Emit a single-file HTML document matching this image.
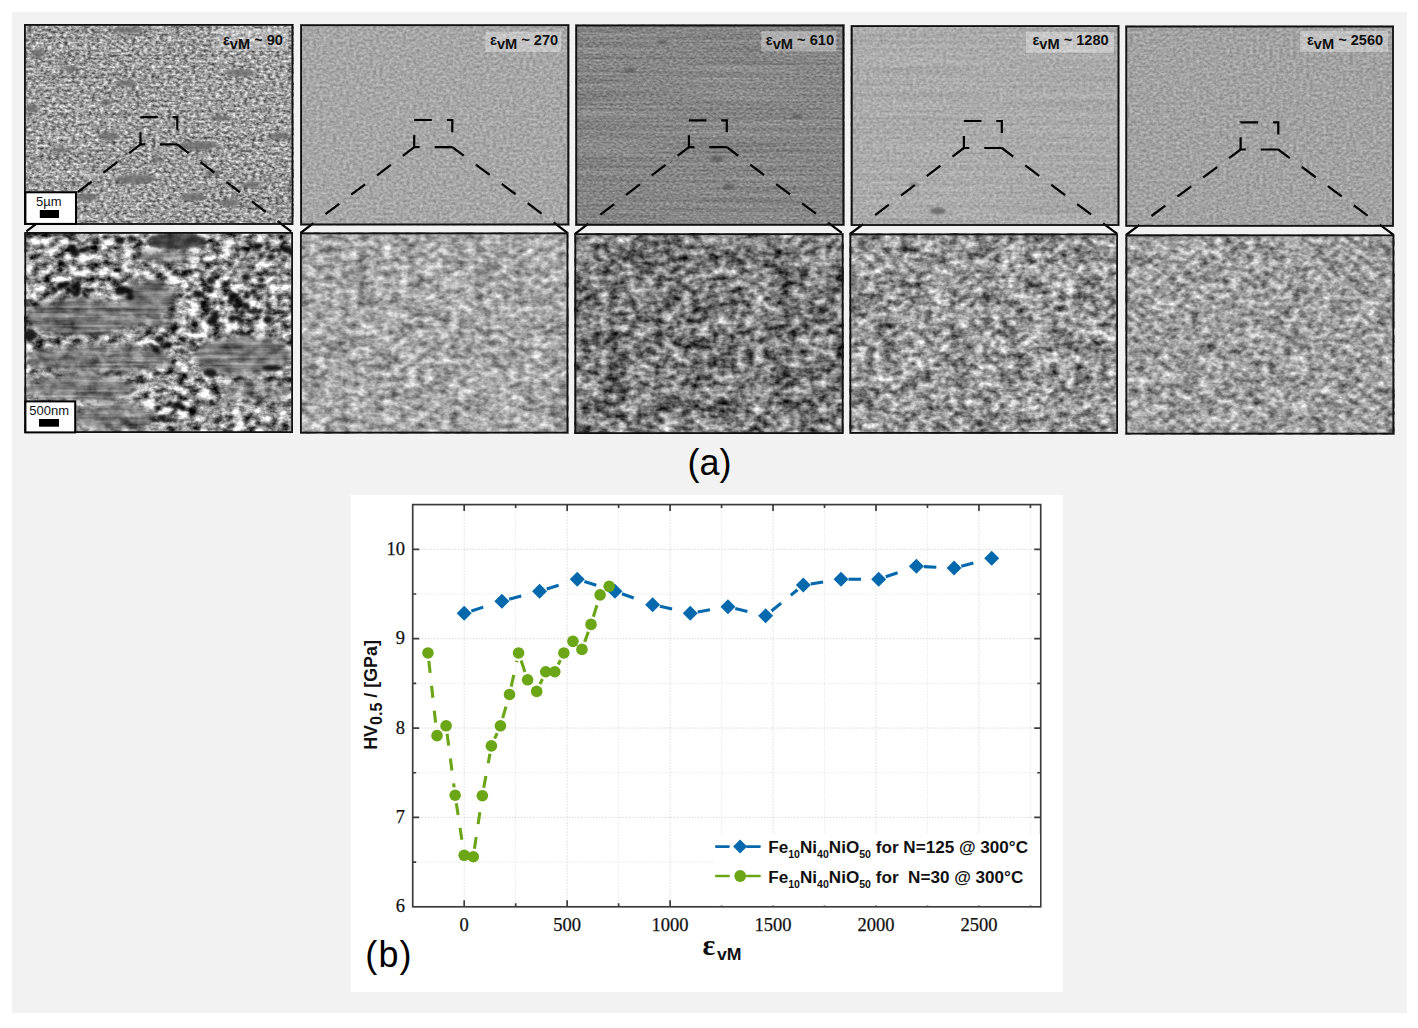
<!DOCTYPE html><html><head><meta charset="utf-8"><style>html,body{margin:0;padding:0;background:#fff;width:1418px;height:1028px;overflow:hidden}svg{display:block}</style></head><body><svg width="1418" height="1028" viewBox="0 0 1418 1028">
<defs><filter id="ft0" x="0" y="0" width="100%" height="100%" color-interpolation-filters="sRGB"><feTurbulence type="fractalNoise" baseFrequency="0.25 0.38" numOctaves="3" seed="3"/><feColorMatrix type="matrix" values="1.115 0 0 0 0.054  1.115 0 0 0 0.054  1.115 0 0 0 0.054  0 0 0 0 1"/></filter><filter id="ft1" x="0" y="0" width="100%" height="100%" color-interpolation-filters="sRGB"><feTurbulence type="fractalNoise" baseFrequency="0.3 0.38" numOctaves="2" seed="5"/><feColorMatrix type="matrix" values="0.328 0 0 0 0.487  0.328 0 0 0 0.487  0.328 0 0 0 0.487  0 0 0 0 1"/></filter><filter id="ft2" x="0" y="0" width="100%" height="100%" color-interpolation-filters="sRGB"><feTurbulence type="fractalNoise" baseFrequency="0.3 0.5" numOctaves="2" seed="7"/><feColorMatrix type="matrix" values="0.393 0 0 0 0.329  0.393 0 0 0 0.329  0.393 0 0 0 0.329  0 0 0 0 1"/></filter><filter id="ft3" x="0" y="0" width="100%" height="100%" color-interpolation-filters="sRGB"><feTurbulence type="fractalNoise" baseFrequency="0.3 0.38" numOctaves="2" seed="9"/><feColorMatrix type="matrix" values="0.295 0 0 0 0.519  0.295 0 0 0 0.519  0.295 0 0 0 0.519  0 0 0 0 1"/></filter><filter id="ft4" x="0" y="0" width="100%" height="100%" color-interpolation-filters="sRGB"><feTurbulence type="fractalNoise" baseFrequency="0.3 0.38" numOctaves="2" seed="11"/><feColorMatrix type="matrix" values="0.328 0 0 0 0.471  0.328 0 0 0 0.471  0.328 0 0 0 0.471  0 0 0 0 1"/></filter><filter id="fb0" x="0" y="0" width="100%" height="100%" color-interpolation-filters="sRGB"><feTurbulence type="fractalNoise" baseFrequency="0.09 0.13" numOctaves="4" seed="13"/><feColorMatrix type="matrix" values="1.902 0 0 0 -0.363  1.902 0 0 0 -0.363  1.902 0 0 0 -0.363  0 0 0 0 1"/></filter><filter id="fb1" x="0" y="0" width="100%" height="100%" color-interpolation-filters="sRGB"><feTurbulence type="fractalNoise" baseFrequency="0.12 0.17" numOctaves="3" seed="15" result="n1"/><feColorMatrix in="n1" type="matrix" values="1 0 0 0 0  1 0 0 0 0  1 0 0 0 0  0 0 0 0 1" result="g1"/><feTurbulence type="fractalNoise" baseFrequency="0.04 0.065" numOctaves="3" seed="65" result="n2"/><feColorMatrix in="n2" type="matrix" values="1 0 0 0 0  1 0 0 0 0  1 0 0 0 0  0 0 0 0 1" result="g2"/><feComposite in="g1" in2="g2" operator="arithmetic" k1="0" k2="0.68" k3="0.32" k4="0" result="m"/><feColorMatrix in="m" type="matrix" values="1.134 0 0 0 0.080  1.134 0 0 0 0.080  1.134 0 0 0 0.080  0 0 0 0 1"/></filter><filter id="fb2" x="0" y="0" width="100%" height="100%" color-interpolation-filters="sRGB"><feTurbulence type="fractalNoise" baseFrequency="0.11 0.16" numOctaves="3" seed="17" result="n1"/><feColorMatrix in="n1" type="matrix" values="1 0 0 0 0  1 0 0 0 0  1 0 0 0 0  0 0 0 0 1" result="g1"/><feTurbulence type="fractalNoise" baseFrequency="0.035 0.06" numOctaves="3" seed="67" result="n2"/><feColorMatrix in="n2" type="matrix" values="1 0 0 0 0  1 0 0 0 0  1 0 0 0 0  0 0 0 0 1" result="g2"/><feComposite in="g1" in2="g2" operator="arithmetic" k1="0" k2="0.65" k3="0.35" k4="0" result="m"/><feColorMatrix in="m" type="matrix" values="1.688 0 0 0 -0.365  1.688 0 0 0 -0.365  1.688 0 0 0 -0.365  0 0 0 0 1"/></filter><filter id="fb3" x="0" y="0" width="100%" height="100%" color-interpolation-filters="sRGB"><feTurbulence type="fractalNoise" baseFrequency="0.12 0.17" numOctaves="3" seed="19" result="n1"/><feColorMatrix in="n1" type="matrix" values="1 0 0 0 0  1 0 0 0 0  1 0 0 0 0  0 0 0 0 1" result="g1"/><feTurbulence type="fractalNoise" baseFrequency="0.04 0.065" numOctaves="3" seed="69" result="n2"/><feColorMatrix in="n2" type="matrix" values="1 0 0 0 0  1 0 0 0 0  1 0 0 0 0  0 0 0 0 1" result="g2"/><feComposite in="g1" in2="g2" operator="arithmetic" k1="0" k2="0.68" k3="0.32" k4="0" result="m"/><feColorMatrix in="m" type="matrix" values="1.571 0 0 0 -0.197  1.571 0 0 0 -0.197  1.571 0 0 0 -0.197  0 0 0 0 1"/></filter><filter id="fb4" x="0" y="0" width="100%" height="100%" color-interpolation-filters="sRGB"><feTurbulence type="fractalNoise" baseFrequency="0.13 0.18" numOctaves="3" seed="21" result="n1"/><feColorMatrix in="n1" type="matrix" values="1 0 0 0 0  1 0 0 0 0  1 0 0 0 0  0 0 0 0 1" result="g1"/><feTurbulence type="fractalNoise" baseFrequency="0.045 0.07" numOctaves="3" seed="71" result="n2"/><feColorMatrix in="n2" type="matrix" values="1 0 0 0 0  1 0 0 0 0  1 0 0 0 0  0 0 0 0 1" result="g2"/><feComposite in="g1" in2="g2" operator="arithmetic" k1="0" k2="0.7" k3="0.3" k4="0" result="m"/><feColorMatrix in="m" type="matrix" values="1.248 0 0 0 -0.005  1.248 0 0 0 -0.005  1.248 0 0 0 -0.005  0 0 0 0 1"/></filter><filter id="fstri" x="0" y="0" width="100%" height="100%" color-interpolation-filters="sRGB"><feTurbulence type="fractalNoise" baseFrequency="0.01 0.25" numOctaves="3" seed="4" result="n1"/><feColorMatrix in="n1" type="matrix" values="1 0 0 0 0  1 0 0 0 0  1 0 0 0 0  0 0 0 0 1" result="g1"/><feTurbulence type="fractalNoise" baseFrequency="0.06 0.1" numOctaves="3" seed="44" result="n2"/><feColorMatrix in="n2" type="matrix" values="1 0 0 0 0  1 0 0 0 0  1 0 0 0 0  0 0 0 0 1" result="g2"/><feComposite in="g1" in2="g2" operator="arithmetic" k1="0" k2="0.55" k3="0.45" k4="0" result="m"/><feColorMatrix in="m" type="matrix" values="1.15 0 0 0 -0.12  1.15 0 0 0 -0.12  1.15 0 0 0 -0.12  0 0 0 0 1"/></filter><filter id="fs0" x="0" y="0" width="100%" height="100%" color-interpolation-filters="sRGB"><feTurbulence type="fractalNoise" baseFrequency="0.006 0.35" numOctaves="2" seed="8"/><feColorMatrix type="matrix" values="2.0 0 0 0 -0.392  2.0 0 0 0 -0.392  2.0 0 0 0 -0.392  0 0 0 0 0.12"/></filter><filter id="fs2" x="0" y="0" width="100%" height="100%" color-interpolation-filters="sRGB"><feTurbulence type="fractalNoise" baseFrequency="0.006 0.35" numOctaves="2" seed="8"/><feColorMatrix type="matrix" values="2.0 0 0 0 -0.475  2.0 0 0 0 -0.475  2.0 0 0 0 -0.475  0 0 0 0 0.1"/></filter><filter id="fs3" x="0" y="0" width="100%" height="100%" color-interpolation-filters="sRGB"><feTurbulence type="fractalNoise" baseFrequency="0.006 0.35" numOctaves="2" seed="8"/><feColorMatrix type="matrix" values="1.6 0 0 0 -0.133  1.6 0 0 0 -0.133  1.6 0 0 0 -0.133  0 0 0 0 0.08"/></filter><filter id="bl2" x="-20%" y="-20%" width="140%" height="140%"><feGaussianBlur stdDeviation="2"/></filter><filter id="bl1" x="-20%" y="-20%" width="140%" height="140%"><feGaussianBlur stdDeviation="1"/></filter><filter id="bl3" x="-20%" y="-20%" width="140%" height="140%"><feGaussianBlur stdDeviation="3"/></filter><clipPath id="c0"><rect x="24.0" y="24.0" width="269.3" height="200.9"/></clipPath><clipPath id="c1"><rect x="300.2" y="24.3" width="268.9" height="201.0"/></clipPath><clipPath id="c2"><rect x="575.4" y="24.7" width="268.8" height="200.9"/></clipPath><clipPath id="c3"><rect x="850.9" y="25.2" width="268.4" height="200.7"/></clipPath><clipPath id="c4"><rect x="1125.4" y="25.7" width="268.5" height="201.0"/></clipPath><clipPath id="c5"><rect x="24.4" y="232.0" width="268.6" height="201.0"/></clipPath><clipPath id="c6"><rect x="300.0" y="232.5" width="268.3" height="201.0"/></clipPath><clipPath id="c7"><rect x="574.5" y="233.3" width="269.0" height="200.7"/></clipPath><clipPath id="c8"><rect x="849.5" y="233.5" width="268.5" height="200.3"/></clipPath><clipPath id="c9"><rect x="1125.5" y="234.5" width="268.7" height="200.0"/></clipPath></defs>
<rect x="0" y="0" width="1418" height="1028" fill="#ffffff"/>
<rect x="12" y="12" width="1395" height="1001" fill="#f2f2f2"/>
<rect x="24.0" y="24.0" width="269.3" height="200.9" filter="url(#ft0)"/>
<rect x="300.2" y="24.3" width="268.9" height="201.0" filter="url(#ft1)"/>
<rect x="575.4" y="24.7" width="268.8" height="200.9" filter="url(#ft2)"/>
<rect x="850.9" y="25.2" width="268.4" height="200.7" filter="url(#ft3)"/>
<rect x="1125.4" y="25.7" width="268.5" height="201.0" filter="url(#ft4)"/>
<rect x="24.4" y="232.0" width="268.6" height="201.0" filter="url(#fb0)"/>
<rect x="300.0" y="232.5" width="268.3" height="201.0" filter="url(#fb1)"/>
<rect x="574.5" y="233.3" width="269.0" height="200.7" filter="url(#fb2)"/>
<rect x="849.5" y="233.5" width="268.5" height="200.3" filter="url(#fb3)"/>
<rect x="1125.5" y="234.5" width="268.7" height="200.0" filter="url(#fb4)"/>
<rect x="24.0" y="24.0" width="269.3" height="200.9" filter="url(#fs0)"/>
<rect x="575.4" y="24.7" width="268.8" height="200.9" filter="url(#fs2)"/>
<rect x="850.9" y="25.2" width="268.4" height="200.7" filter="url(#fs3)"/>
<g clip-path="url(#c2)" filter="url(#bl1)"><ellipse cx="630.3" cy="70.2" rx="6" ry="2.5" fill="#555" fill-opacity="0.7"/></g>
<g clip-path="url(#c2)" filter="url(#bl1)"><ellipse cx="716.8" cy="158.7" rx="6" ry="3.5" fill="#555" fill-opacity="0.7"/></g>
<g clip-path="url(#c2)" filter="url(#bl1)"><ellipse cx="728.8" cy="186.8" rx="6" ry="3" fill="#555" fill-opacity="0.7"/></g>
<g clip-path="url(#c2)" filter="url(#bl1)"><ellipse cx="662.5" cy="42.1" rx="5" ry="2" fill="#555" fill-opacity="0.7"/></g>
<g clip-path="url(#c2)" filter="url(#bl1)"><ellipse cx="797" cy="116.5" rx="5" ry="2" fill="#555" fill-opacity="0.7"/></g>
<g clip-path="url(#c3)" filter="url(#bl1)"><ellipse cx="937.8" cy="210.9" rx="8" ry="3.5" fill="#555" fill-opacity="0.7"/></g>
<g clip-path="url(#c3)" filter="url(#bl1)"><ellipse cx="913.7" cy="184.8" rx="4" ry="1.5" fill="#555" fill-opacity="0.7"/></g>
<g clip-path="url(#c0)" filter="url(#bl1)"><ellipse cx="37.8" cy="53.5" rx="7" ry="4" fill="#6c6c6c" fill-opacity="0.8"/><ellipse cx="106.5" cy="102.6" rx="6" ry="3" fill="#6c6c6c" fill-opacity="0.8"/><ellipse cx="108.5" cy="136" rx="11" ry="4.5" fill="#6c6c6c" fill-opacity="0.8"/><ellipse cx="197" cy="145.8" rx="20" ry="4.5" fill="#6c6c6c" fill-opacity="0.8"/><ellipse cx="136" cy="179" rx="20" ry="4.5" fill="#6c6c6c" fill-opacity="0.8"/><ellipse cx="240" cy="73" rx="15" ry="3.5" fill="#6c6c6c" fill-opacity="0.8"/><ellipse cx="126" cy="83" rx="10" ry="3.5" fill="#6c6c6c" fill-opacity="0.8"/><ellipse cx="279.5" cy="136" rx="10" ry="3.5" fill="#6c6c6c" fill-opacity="0.8"/><ellipse cx="87" cy="197" rx="10" ry="4" fill="#6c6c6c" fill-opacity="0.8"/><ellipse cx="193" cy="197" rx="12" ry="4" fill="#6c6c6c" fill-opacity="0.8"/><ellipse cx="228" cy="203" rx="10" ry="3.5" fill="#6c6c6c" fill-opacity="0.8"/><ellipse cx="157.6" cy="159.6" rx="6" ry="3" fill="#6c6c6c" fill-opacity="0.8"/><ellipse cx="32" cy="108.5" rx="7" ry="4" fill="#6c6c6c" fill-opacity="0.8"/><ellipse cx="128" cy="30" rx="15" ry="3.5" fill="#6c6c6c" fill-opacity="0.8"/><ellipse cx="220.5" cy="118" rx="10" ry="3" fill="#6c6c6c" fill-opacity="0.8"/><ellipse cx="71" cy="69" rx="8" ry="3" fill="#6c6c6c" fill-opacity="0.8"/><ellipse cx="212.6" cy="173" rx="8" ry="3" fill="#6c6c6c" fill-opacity="0.8"/><ellipse cx="60" cy="150" rx="9" ry="3" fill="#6c6c6c" fill-opacity="0.8"/><ellipse cx="250" cy="185" rx="9" ry="3" fill="#6c6c6c" fill-opacity="0.8"/></g>
<mask id="mb1" maskUnits="userSpaceOnUse" x="0" y="0" width="1418" height="1028"><g filter="url(#bl3)"><ellipse cx="81" cy="317" rx="55" ry="19" fill="#fff" fill-opacity="0.85"/><ellipse cx="150" cy="320" rx="28" ry="8" fill="#fff" fill-opacity="0.6"/><ellipse cx="148" cy="297" rx="27" ry="17" fill="#fff" fill-opacity="0.85"/><ellipse cx="165" cy="256" rx="29" ry="7" fill="#fff" fill-opacity="0.7"/><ellipse cx="243" cy="356" rx="49" ry="19" fill="#fff" fill-opacity="0.85"/><ellipse cx="98" cy="359" rx="72" ry="15" fill="#fff" fill-opacity="0.7"/><ellipse cx="81" cy="388" rx="55" ry="13" fill="#fff" fill-opacity="0.8"/><ellipse cx="115" cy="417" rx="40" ry="15" fill="#fff" fill-opacity="0.75"/><ellipse cx="255" cy="390" rx="36" ry="12" fill="#fff" fill-opacity="0.45"/><ellipse cx="40" cy="420" rx="20" ry="10" fill="#fff" fill-opacity="0.5"/></g></mask>
<g clip-path="url(#c5)"><rect x="24.4" y="232.0" width="268.6" height="201.0" filter="url(#fstri)" mask="url(#mb1)"/><g filter="url(#bl1)"><ellipse cx="176" cy="241" rx="30" ry="8" fill="#303030" fill-opacity="0.8"/><ellipse cx="69.2" cy="290.5" rx="3.7" ry="3.1" fill="#0a0a0a" fill-opacity="0.92"/><ellipse cx="87.2" cy="290.3" rx="3.0" ry="2.5" fill="#0a0a0a" fill-opacity="0.92"/><ellipse cx="87.4" cy="289.8" rx="2.2" ry="1.9" fill="#0a0a0a" fill-opacity="0.92"/><ellipse cx="67.8" cy="288.8" rx="2.4" ry="2.0" fill="#0a0a0a" fill-opacity="0.92"/><ellipse cx="55.5" cy="291.0" rx="2.5" ry="2.0" fill="#0a0a0a" fill-opacity="0.92"/><ellipse cx="75.9" cy="293.6" rx="4.4" ry="3.7" fill="#0a0a0a" fill-opacity="0.92"/><ellipse cx="61.0" cy="285.9" rx="4.5" ry="3.8" fill="#0a0a0a" fill-opacity="0.92"/><ellipse cx="92.2" cy="289.9" rx="2.9" ry="2.4" fill="#0a0a0a" fill-opacity="0.92"/><ellipse cx="77.6" cy="289.9" rx="2.9" ry="2.4" fill="#0a0a0a" fill-opacity="0.92"/><ellipse cx="76.7" cy="285.2" rx="3.6" ry="3.0" fill="#0a0a0a" fill-opacity="0.92"/><ellipse cx="64.5" cy="284.6" rx="3.5" ry="2.9" fill="#0a0a0a" fill-opacity="0.92"/><ellipse cx="77.9" cy="288.7" rx="2.7" ry="2.2" fill="#0a0a0a" fill-opacity="0.92"/><ellipse cx="67.0" cy="283.7" rx="2.9" ry="2.4" fill="#0a0a0a" fill-opacity="0.92"/><ellipse cx="60.5" cy="285.5" rx="2.9" ry="2.4" fill="#0a0a0a" fill-opacity="0.92"/><ellipse cx="78.0" cy="282.2" rx="2.7" ry="2.3" fill="#0a0a0a" fill-opacity="0.92"/><ellipse cx="120.2" cy="291.6" rx="4.3" ry="3.6" fill="#0a0a0a" fill-opacity="0.9"/><ellipse cx="125.4" cy="290.2" rx="4.5" ry="3.8" fill="#0a0a0a" fill-opacity="0.9"/><ellipse cx="130.3" cy="297.1" rx="4.0" ry="3.3" fill="#0a0a0a" fill-opacity="0.9"/><ellipse cx="129.6" cy="298.1" rx="2.3" ry="1.9" fill="#0a0a0a" fill-opacity="0.9"/><ellipse cx="122.1" cy="288.5" rx="3.5" ry="2.9" fill="#0a0a0a" fill-opacity="0.9"/><ellipse cx="129.6" cy="291.2" rx="3.8" ry="3.2" fill="#0a0a0a" fill-opacity="0.9"/><ellipse cx="209.6" cy="290.5" rx="3.3" ry="2.7" fill="#0a0a0a" fill-opacity="0.9"/><ellipse cx="261.4" cy="279.8" rx="3.3" ry="2.7" fill="#0a0a0a" fill-opacity="0.9"/><ellipse cx="232.3" cy="296.3" rx="3.8" ry="3.2" fill="#0a0a0a" fill-opacity="0.9"/><ellipse cx="211.0" cy="280.5" rx="4.1" ry="3.4" fill="#0a0a0a" fill-opacity="0.9"/><ellipse cx="232.0" cy="318.4" rx="3.8" ry="3.1" fill="#0a0a0a" fill-opacity="0.9"/><ellipse cx="268.3" cy="304.6" rx="2.6" ry="2.1" fill="#0a0a0a" fill-opacity="0.9"/><ellipse cx="246.1" cy="306.4" rx="4.0" ry="3.3" fill="#0a0a0a" fill-opacity="0.9"/><ellipse cx="253.4" cy="311.8" rx="3.1" ry="2.6" fill="#0a0a0a" fill-opacity="0.9"/><ellipse cx="246.8" cy="296.5" rx="3.2" ry="2.7" fill="#0a0a0a" fill-opacity="0.9"/><ellipse cx="197.7" cy="294.2" rx="4.1" ry="3.4" fill="#0a0a0a" fill-opacity="0.9"/><ellipse cx="253.6" cy="291.3" rx="3.2" ry="2.6" fill="#0a0a0a" fill-opacity="0.9"/><ellipse cx="211.3" cy="321.7" rx="4.5" ry="3.7" fill="#0a0a0a" fill-opacity="0.9"/><ellipse cx="249.0" cy="311.2" rx="2.7" ry="2.3" fill="#0a0a0a" fill-opacity="0.9"/><ellipse cx="241.3" cy="320.7" rx="3.6" ry="3.0" fill="#0a0a0a" fill-opacity="0.9"/><ellipse cx="237.8" cy="303.7" rx="3.2" ry="2.6" fill="#0a0a0a" fill-opacity="0.9"/><ellipse cx="214.9" cy="316.9" rx="4.4" ry="3.7" fill="#0a0a0a" fill-opacity="0.9"/><ellipse cx="226.2" cy="284.0" rx="3.6" ry="3.0" fill="#0a0a0a" fill-opacity="0.9"/><ellipse cx="233.3" cy="296.4" rx="4.3" ry="3.6" fill="#0a0a0a" fill-opacity="0.9"/><ellipse cx="245.9" cy="277.2" rx="4.1" ry="3.4" fill="#0a0a0a" fill-opacity="0.9"/><ellipse cx="215.8" cy="312.7" rx="2.4" ry="2.0" fill="#0a0a0a" fill-opacity="0.9"/><ellipse cx="230.5" cy="297.0" rx="2.3" ry="1.9" fill="#0a0a0a" fill-opacity="0.9"/><ellipse cx="242.6" cy="312.5" rx="3.0" ry="2.5" fill="#0a0a0a" fill-opacity="0.9"/><ellipse cx="238.7" cy="302.1" rx="2.5" ry="2.1" fill="#0a0a0a" fill-opacity="0.9"/><ellipse cx="259.8" cy="311.7" rx="2.2" ry="1.9" fill="#0a0a0a" fill-opacity="0.9"/><ellipse cx="262.8" cy="287.0" rx="2.5" ry="2.1" fill="#0a0a0a" fill-opacity="0.9"/><ellipse cx="237.6" cy="317.9" rx="3.0" ry="2.5" fill="#0a0a0a" fill-opacity="0.9"/><ellipse cx="267.7" cy="319.4" rx="4.5" ry="3.8" fill="#0a0a0a" fill-opacity="0.9"/><ellipse cx="207.4" cy="306.0" rx="2.4" ry="2.0" fill="#0a0a0a" fill-opacity="0.9"/><ellipse cx="259.1" cy="311.5" rx="2.8" ry="2.3" fill="#0a0a0a" fill-opacity="0.9"/><ellipse cx="246.6" cy="292.5" rx="2.2" ry="1.8" fill="#0a0a0a" fill-opacity="0.9"/><ellipse cx="269.2" cy="296.1" rx="2.5" ry="2.1" fill="#0a0a0a" fill-opacity="0.9"/><ellipse cx="230.9" cy="300.8" rx="3.4" ry="2.9" fill="#0a0a0a" fill-opacity="0.9"/><ellipse cx="167.9" cy="344.9" rx="3.8" ry="3.2" fill="#0a0a0a" fill-opacity="0.9"/><ellipse cx="157.5" cy="351.4" rx="2.6" ry="2.1" fill="#0a0a0a" fill-opacity="0.9"/><ellipse cx="159.1" cy="339.5" rx="4.0" ry="3.4" fill="#0a0a0a" fill-opacity="0.9"/><ellipse cx="155.6" cy="349.7" rx="4.1" ry="3.4" fill="#0a0a0a" fill-opacity="0.9"/><ellipse cx="167.9" cy="345.2" rx="4.1" ry="3.4" fill="#0a0a0a" fill-opacity="0.9"/><ellipse cx="161.9" cy="339.0" rx="2.7" ry="2.3" fill="#0a0a0a" fill-opacity="0.9"/><ellipse cx="151.6" cy="345.4" rx="2.2" ry="1.9" fill="#0a0a0a" fill-opacity="0.9"/><ellipse cx="163.6" cy="346.8" rx="2.8" ry="2.3" fill="#0a0a0a" fill-opacity="0.9"/><ellipse cx="260.5" cy="245.6" rx="3.2" ry="2.7" fill="#0a0a0a" fill-opacity="0.9"/><ellipse cx="287.8" cy="249.9" rx="4.5" ry="3.7" fill="#0a0a0a" fill-opacity="0.9"/><ellipse cx="261.3" cy="255.9" rx="2.7" ry="2.3" fill="#0a0a0a" fill-opacity="0.9"/><ellipse cx="271.2" cy="256.5" rx="3.7" ry="3.0" fill="#0a0a0a" fill-opacity="0.9"/><ellipse cx="284.0" cy="248.6" rx="3.3" ry="2.8" fill="#0a0a0a" fill-opacity="0.9"/><ellipse cx="256.9" cy="247.1" rx="2.4" ry="2.0" fill="#0a0a0a" fill-opacity="0.9"/><ellipse cx="257.0" cy="246.5" rx="4.0" ry="3.4" fill="#0a0a0a" fill-opacity="0.9"/><ellipse cx="268.0" cy="247.4" rx="2.6" ry="2.2" fill="#0a0a0a" fill-opacity="0.9"/><ellipse cx="72.5" cy="247.5" rx="4.1" ry="3.4" fill="#0a0a0a" fill-opacity="0.9"/><ellipse cx="81.1" cy="250.3" rx="3.1" ry="2.6" fill="#0a0a0a" fill-opacity="0.9"/><ellipse cx="84.5" cy="249.2" rx="2.6" ry="2.1" fill="#0a0a0a" fill-opacity="0.9"/><ellipse cx="74.9" cy="252.8" rx="4.3" ry="3.6" fill="#0a0a0a" fill-opacity="0.9"/><ellipse cx="72.4" cy="248.7" rx="4.1" ry="3.5" fill="#0a0a0a" fill-opacity="0.9"/><ellipse cx="183.1" cy="408.4" rx="3.0" ry="2.5" fill="#0a0a0a" fill-opacity="0.9"/><ellipse cx="157.2" cy="408.2" rx="2.2" ry="1.8" fill="#0a0a0a" fill-opacity="0.9"/><ellipse cx="182.8" cy="407.6" rx="3.4" ry="2.9" fill="#0a0a0a" fill-opacity="0.9"/><ellipse cx="178.5" cy="405.7" rx="4.3" ry="3.5" fill="#0a0a0a" fill-opacity="0.9"/><ellipse cx="169.8" cy="403.4" rx="2.8" ry="2.3" fill="#0a0a0a" fill-opacity="0.9"/><ellipse cx="162.1" cy="417.7" rx="3.6" ry="3.0" fill="#0a0a0a" fill-opacity="0.9"/><ellipse cx="164.1" cy="420.5" rx="2.5" ry="2.1" fill="#0a0a0a" fill-opacity="0.9"/><ellipse cx="176.3" cy="404.8" rx="3.3" ry="2.7" fill="#0a0a0a" fill-opacity="0.9"/><ellipse cx="30" cy="335" rx="6" ry="6" fill="#0a0a0a" fill-opacity="0.9"/><ellipse cx="210" cy="373" rx="7" ry="4" fill="#0a0a0a" fill-opacity="0.9"/><ellipse cx="272" cy="368" rx="10" ry="3" fill="#0a0a0a" fill-opacity="0.9"/><ellipse cx="105.2" cy="237.0" rx="3.2" ry="2.6" fill="#0a0a0a" fill-opacity="0.9"/><ellipse cx="131.1" cy="237.8" rx="3.4" ry="2.9" fill="#0a0a0a" fill-opacity="0.9"/><ellipse cx="117.6" cy="239.9" rx="3.2" ry="2.7" fill="#0a0a0a" fill-opacity="0.9"/><ellipse cx="120.5" cy="240.4" rx="4.1" ry="3.4" fill="#0a0a0a" fill-opacity="0.9"/></g></g>
<rect x="216" y="29" width="72" height="22" fill="#ffffff" fill-opacity="0.3"/>
<text x="222.9" y="44.6" font-family='"Liberation Sans", sans-serif' font-weight="bold" font-size="14.6" fill="#111">ε<tspan dy="4.8">vM</tspan><tspan dy="-4.8"> ~ 90</tspan></text>
<rect x="485.4" y="31.6" width="75.7" height="20.3" fill="#ffffff" fill-opacity="0.35"/>
<text x="490.0" y="44.6" font-family='"Liberation Sans", sans-serif' font-weight="bold" font-size="14.6" fill="#111">ε<tspan dy="4.8">vM</tspan><tspan dy="-4.8"> ~ 270</tspan></text>
<rect x="761.2" y="31.2" width="75.2" height="20.3" fill="#ffffff" fill-opacity="0.35"/>
<text x="765.8" y="44.6" font-family='"Liberation Sans", sans-serif' font-weight="bold" font-size="14.6" fill="#111">ε<tspan dy="4.8">vM</tspan><tspan dy="-4.8"> ~ 610</tspan></text>
<rect x="1026" y="32" width="88.0" height="20.8" fill="#ffffff" fill-opacity="0.35"/>
<text x="1032.4" y="44.6" font-family='"Liberation Sans", sans-serif' font-weight="bold" font-size="14.6" fill="#111">ε<tspan dy="4.8">vM</tspan><tspan dy="-4.8"> ~ 1280</tspan></text>
<rect x="1300.2" y="30.8" width="87.9" height="21.1" fill="#ffffff" fill-opacity="0.35"/>
<text x="1306.9" y="44.6" font-family='"Liberation Sans", sans-serif' font-weight="bold" font-size="14.6" fill="#111">ε<tspan dy="4.8">vM</tspan><tspan dy="-4.8"> ~ 2560</tspan></text>
<path d="M140.5,117.2 H177.3 V144.4 H140.5 Z" fill="none" stroke="#000" stroke-width="2.2" stroke-dasharray="17.28 14.72"/>
<line x1="140.5" y1="144.4" x2="24.9" y2="232.5" stroke="#000" stroke-width="2.2" stroke-dasharray="17.3 15" stroke-dashoffset="3"/>
<line x1="177.3" y1="144.4" x2="292.5" y2="232.5" stroke="#000" stroke-width="2.2" stroke-dasharray="17.3 15" stroke-dashoffset="3"/>
<path d="M414.2,120.0 H452.3 V147.2 H414.2 Z" fill="none" stroke="#000" stroke-width="2.2" stroke-dasharray="17.63 15.02"/>
<line x1="414.2" y1="147.2" x2="300.5" y2="233.0" stroke="#000" stroke-width="2.2" stroke-dasharray="17.3 15" stroke-dashoffset="3"/>
<line x1="452.3" y1="147.2" x2="567.8" y2="233.0" stroke="#000" stroke-width="2.2" stroke-dasharray="17.3 15" stroke-dashoffset="3"/>
<path d="M688.9,120.4 H726.8 V147.2 H688.9 Z" fill="none" stroke="#000" stroke-width="2.2" stroke-dasharray="17.47 14.88"/>
<line x1="688.9" y1="147.2" x2="575.0" y2="233.8" stroke="#000" stroke-width="2.2" stroke-dasharray="17.3 15" stroke-dashoffset="3"/>
<line x1="726.8" y1="147.2" x2="843.0" y2="233.8" stroke="#000" stroke-width="2.2" stroke-dasharray="17.3 15" stroke-dashoffset="3"/>
<path d="M963.9,121.0 H1001.8 V148.0 H963.9 Z" fill="none" stroke="#000" stroke-width="2.2" stroke-dasharray="17.52 14.93"/>
<line x1="963.9" y1="148.0" x2="850.0" y2="234.0" stroke="#000" stroke-width="2.2" stroke-dasharray="17.3 15" stroke-dashoffset="3"/>
<line x1="1001.8" y1="148.0" x2="1117.5" y2="234.0" stroke="#000" stroke-width="2.2" stroke-dasharray="17.3 15" stroke-dashoffset="3"/>
<path d="M1240.6,122.3 H1278.3 V149.5 H1240.6 Z" fill="none" stroke="#000" stroke-width="2.2" stroke-dasharray="17.52 14.93"/>
<line x1="1240.6" y1="149.5" x2="1126.0" y2="235.0" stroke="#000" stroke-width="2.2" stroke-dasharray="17.3 15" stroke-dashoffset="3"/>
<line x1="1278.3" y1="149.5" x2="1393.7" y2="235.0" stroke="#000" stroke-width="2.2" stroke-dasharray="17.3 15" stroke-dashoffset="3"/>
<rect x="24.90" y="24.90" width="267.50" height="199.10" fill="none" stroke="#111" stroke-width="1.8"/>
<rect x="301.10" y="25.20" width="267.10" height="199.20" fill="none" stroke="#111" stroke-width="1.8"/>
<rect x="576.30" y="25.60" width="267.00" height="199.10" fill="none" stroke="#111" stroke-width="1.8"/>
<rect x="851.80" y="26.10" width="266.60" height="198.90" fill="none" stroke="#111" stroke-width="1.8"/>
<rect x="1126.30" y="26.60" width="266.70" height="199.20" fill="none" stroke="#111" stroke-width="1.8"/>
<rect x="25.30" y="232.90" width="266.80" height="199.20" fill="none" stroke="#111" stroke-width="1.8"/>
<rect x="300.90" y="233.40" width="266.50" height="199.20" fill="none" stroke="#111" stroke-width="1.8"/>
<rect x="575.40" y="234.20" width="267.20" height="198.90" fill="none" stroke="#111" stroke-width="1.8"/>
<rect x="850.40" y="234.40" width="266.70" height="198.50" fill="none" stroke="#111" stroke-width="1.8"/>
<rect x="1126.40" y="235.40" width="266.90" height="198.20" fill="none" stroke="#111" stroke-width="1.8"/>
<rect x="25.4" y="192.3" width="50.6" height="31.6" fill="#fff" stroke="#000" stroke-width="2"/>
<text x="36" y="206.2" font-family='"Liberation Sans", sans-serif' font-size="13" fill="#111">5µm</text>
<rect x="39.8" y="210" width="19.2" height="8" fill="#000"/>
<rect x="25.4" y="401.4" width="49.8" height="31" fill="#fff" stroke="#000" stroke-width="2"/>
<text x="29.3" y="415.4" font-family='"Liberation Sans", sans-serif' font-size="13" fill="#111">500nm</text>
<rect x="39" y="419" width="20" height="7.7" fill="#000"/>
<text x="709.5" y="474.6" text-anchor="middle" font-family='"Liberation Sans", sans-serif' font-size="36" fill="#000">(a)</text>
<rect x="351" y="495" width="712" height="497" fill="#ffffff"/>
<line x1="464.20" y1="504.61" x2="464.20" y2="906.80" stroke="#c8c8c8" stroke-width="1" stroke-dasharray="1 2"/>
<line x1="515.67" y1="504.61" x2="515.67" y2="906.80" stroke="#dedede" stroke-width="1" stroke-dasharray="1 2"/>
<line x1="567.15" y1="504.61" x2="567.15" y2="906.80" stroke="#c8c8c8" stroke-width="1" stroke-dasharray="1 2"/>
<line x1="618.62" y1="504.61" x2="618.62" y2="906.80" stroke="#dedede" stroke-width="1" stroke-dasharray="1 2"/>
<line x1="670.10" y1="504.61" x2="670.10" y2="906.80" stroke="#c8c8c8" stroke-width="1" stroke-dasharray="1 2"/>
<line x1="721.58" y1="504.61" x2="721.58" y2="906.80" stroke="#dedede" stroke-width="1" stroke-dasharray="1 2"/>
<line x1="773.05" y1="504.61" x2="773.05" y2="906.80" stroke="#c8c8c8" stroke-width="1" stroke-dasharray="1 2"/>
<line x1="824.52" y1="504.61" x2="824.52" y2="906.80" stroke="#dedede" stroke-width="1" stroke-dasharray="1 2"/>
<line x1="876.00" y1="504.61" x2="876.00" y2="906.80" stroke="#c8c8c8" stroke-width="1" stroke-dasharray="1 2"/>
<line x1="927.47" y1="504.61" x2="927.47" y2="906.80" stroke="#dedede" stroke-width="1" stroke-dasharray="1 2"/>
<line x1="978.95" y1="504.61" x2="978.95" y2="906.80" stroke="#c8c8c8" stroke-width="1" stroke-dasharray="1 2"/>
<line x1="1030.42" y1="504.61" x2="1030.42" y2="906.80" stroke="#dedede" stroke-width="1" stroke-dasharray="1 2"/>
<line x1="412.72" y1="862.11" x2="1040.72" y2="862.11" stroke="#dedede" stroke-width="1" stroke-dasharray="1 2"/>
<line x1="412.72" y1="817.42" x2="1040.72" y2="817.42" stroke="#c8c8c8" stroke-width="1" stroke-dasharray="1 2"/>
<line x1="412.72" y1="772.74" x2="1040.72" y2="772.74" stroke="#dedede" stroke-width="1" stroke-dasharray="1 2"/>
<line x1="412.72" y1="728.05" x2="1040.72" y2="728.05" stroke="#c8c8c8" stroke-width="1" stroke-dasharray="1 2"/>
<line x1="412.72" y1="683.36" x2="1040.72" y2="683.36" stroke="#dedede" stroke-width="1" stroke-dasharray="1 2"/>
<line x1="412.72" y1="638.67" x2="1040.72" y2="638.67" stroke="#c8c8c8" stroke-width="1" stroke-dasharray="1 2"/>
<line x1="412.72" y1="593.99" x2="1040.72" y2="593.99" stroke="#dedede" stroke-width="1" stroke-dasharray="1 2"/>
<line x1="412.72" y1="549.30" x2="1040.72" y2="549.30" stroke="#c8c8c8" stroke-width="1" stroke-dasharray="1 2"/>
<rect x="412.72" y="504.61" width="628.00" height="402.19" fill="none" stroke="#3c3c3c" stroke-width="1.7"/>
<path d="M464.20,504.61v6.5M464.20,906.80v-6.5M515.67,504.61v3.5M515.67,906.80v-3.5M567.15,504.61v6.5M567.15,906.80v-6.5M618.62,504.61v3.5M618.62,906.80v-3.5M670.10,504.61v6.5M670.10,906.80v-6.5M721.58,504.61v3.5M721.58,906.80v-3.5M773.05,504.61v6.5M773.05,906.80v-6.5M824.52,504.61v3.5M824.52,906.80v-3.5M876.00,504.61v6.5M876.00,906.80v-6.5M927.47,504.61v3.5M927.47,906.80v-3.5M978.95,504.61v6.5M978.95,906.80v-6.5M1030.42,504.61v3.5M1030.42,906.80v-3.5M412.72,862.11h3.5M1040.72,862.11h-3.5M412.72,817.42h6.5M1040.72,817.42h-6.5M412.72,772.74h3.5M1040.72,772.74h-3.5M412.72,728.05h6.5M1040.72,728.05h-6.5M412.72,683.36h3.5M1040.72,683.36h-3.5M412.72,638.67h6.5M1040.72,638.67h-6.5M412.72,593.99h3.5M1040.72,593.99h-3.5M412.72,549.30h6.5M1040.72,549.30h-6.5" stroke="#3c3c3c" stroke-width="1.7" fill="none"/>
<text x="464.20" y="931" text-anchor="middle" font-family='"Liberation Serif", serif' font-size="18.5" fill="#111" stroke="#111" stroke-width="0.25">0</text>
<text x="567.15" y="931" text-anchor="middle" font-family='"Liberation Serif", serif' font-size="18.5" fill="#111" stroke="#111" stroke-width="0.25">500</text>
<text x="670.10" y="931" text-anchor="middle" font-family='"Liberation Serif", serif' font-size="18.5" fill="#111" stroke="#111" stroke-width="0.25">1000</text>
<text x="773.05" y="931" text-anchor="middle" font-family='"Liberation Serif", serif' font-size="18.5" fill="#111" stroke="#111" stroke-width="0.25">1500</text>
<text x="876.00" y="931" text-anchor="middle" font-family='"Liberation Serif", serif' font-size="18.5" fill="#111" stroke="#111" stroke-width="0.25">2000</text>
<text x="978.95" y="931" text-anchor="middle" font-family='"Liberation Serif", serif' font-size="18.5" fill="#111" stroke="#111" stroke-width="0.25">2500</text>
<text x="405" y="912.40" text-anchor="end" font-family='"Liberation Serif", serif' font-size="18.5" fill="#111" stroke="#111" stroke-width="0.25">6</text>
<text x="405" y="823.02" text-anchor="end" font-family='"Liberation Serif", serif' font-size="18.5" fill="#111" stroke="#111" stroke-width="0.25">7</text>
<text x="405" y="733.65" text-anchor="end" font-family='"Liberation Serif", serif' font-size="18.5" fill="#111" stroke="#111" stroke-width="0.25">8</text>
<text x="405" y="644.27" text-anchor="end" font-family='"Liberation Serif", serif' font-size="18.5" fill="#111" stroke="#111" stroke-width="0.25">9</text>
<text x="405" y="554.90" text-anchor="end" font-family='"Liberation Serif", serif' font-size="18.5" fill="#111" stroke="#111" stroke-width="0.25">10</text>
<text transform="translate(376.7,749.8) rotate(-90)" font-family='"Liberation Sans", sans-serif' font-weight="bold" font-size="17.9" fill="#111">HV<tspan dy="5.5" font-size="16">0.5</tspan><tspan dy="-5.5"> / [GPa]</tspan></text>
<text x="702.4" y="954.6" font-family='"Liberation Serif", serif' font-weight="bold" font-size="30" fill="#111">ε</text>
<text x="717.0" y="960.2" font-family='"Liberation Sans", sans-serif' font-weight="bold" font-size="17.3" textLength="24.6" lengthAdjust="spacingAndGlyphs" fill="#111">vM</text>
<text x="365.2" y="967" font-family='"Liberation Sans", sans-serif' font-size="36" letter-spacing="1.2" fill="#000">(b)</text>
<line x1="471.34" y1="610.92" x2="494.74" y2="603.42" stroke="#0468ac" stroke-width="3.1" stroke-linecap="butt" stroke-dasharray="12.5 12.5"/>
<line x1="509.14" y1="599.24" x2="532.30" y2="593.20" stroke="#0468ac" stroke-width="3.1" stroke-linecap="butt" stroke-dasharray="12.5 12.5"/>
<line x1="546.70" y1="589.02" x2="570.10" y2="581.53" stroke="#0468ac" stroke-width="3.1" stroke-linecap="butt" stroke-dasharray="12.5 12.5"/>
<line x1="584.38" y1="581.53" x2="607.78" y2="589.02" stroke="#0468ac" stroke-width="3.1" stroke-linecap="butt" stroke-dasharray="12.5 12.5"/>
<line x1="621.98" y1="593.82" x2="645.53" y2="602.20" stroke="#0468ac" stroke-width="3.1" stroke-linecap="butt" stroke-dasharray="12.5 12.5"/>
<line x1="659.92" y1="606.36" x2="682.96" y2="611.55" stroke="#0468ac" stroke-width="3.1" stroke-linecap="butt" stroke-dasharray="12.5 12.5"/>
<line x1="697.67" y1="611.94" x2="720.56" y2="608.03" stroke="#0468ac" stroke-width="3.1" stroke-linecap="butt" stroke-dasharray="12.5 12.5"/>
<line x1="735.25" y1="608.52" x2="758.34" y2="614.05" stroke="#0468ac" stroke-width="3.1" stroke-linecap="butt" stroke-dasharray="12.5 12.5"/>
<line x1="771.45" y1="611.05" x2="797.51" y2="589.79" stroke="#0468ac" stroke-width="3.1" stroke-linecap="butt" stroke-dasharray="12.5 12.5"/>
<line x1="810.73" y1="583.91" x2="833.58" y2="580.38" stroke="#0468ac" stroke-width="3.1" stroke-linecap="butt" stroke-dasharray="12.5 12.5"/>
<line x1="848.50" y1="579.24" x2="871.18" y2="579.24" stroke="#0468ac" stroke-width="3.1" stroke-linecap="butt" stroke-dasharray="12.5 12.5"/>
<line x1="885.77" y1="576.80" x2="909.26" y2="568.72" stroke="#0468ac" stroke-width="3.1" stroke-linecap="butt" stroke-dasharray="12.5 12.5"/>
<line x1="923.85" y1="566.64" x2="946.54" y2="567.71" stroke="#0468ac" stroke-width="3.1" stroke-linecap="butt" stroke-dasharray="12.5 12.5"/>
<line x1="961.29" y1="566.18" x2="984.46" y2="560.13" stroke="#0468ac" stroke-width="3.1" stroke-linecap="butt" stroke-dasharray="12.5 12.5"/>
<path d="M464.20,605.70l7.5,7.5l-7.5,7.5l-7.5,-7.5z" fill="#0468ac"/>
<path d="M501.88,593.64l7.5,7.5l-7.5,7.5l-7.5,-7.5z" fill="#0468ac"/>
<path d="M539.56,583.81l7.5,7.5l-7.5,7.5l-7.5,-7.5z" fill="#0468ac"/>
<path d="M577.24,571.74l7.5,7.5l-7.5,7.5l-7.5,-7.5z" fill="#0468ac"/>
<path d="M614.92,583.81l7.5,7.5l-7.5,7.5l-7.5,-7.5z" fill="#0468ac"/>
<path d="M652.60,597.21l7.5,7.5l-7.5,7.5l-7.5,-7.5z" fill="#0468ac"/>
<path d="M690.28,605.70l7.5,7.5l-7.5,7.5l-7.5,-7.5z" fill="#0468ac"/>
<path d="M727.96,599.27l7.5,7.5l-7.5,7.5l-7.5,-7.5z" fill="#0468ac"/>
<path d="M765.64,608.29l7.5,7.5l-7.5,7.5l-7.5,-7.5z" fill="#0468ac"/>
<path d="M803.32,577.55l7.5,7.5l-7.5,7.5l-7.5,-7.5z" fill="#0468ac"/>
<path d="M841.00,571.74l7.5,7.5l-7.5,7.5l-7.5,-7.5z" fill="#0468ac"/>
<path d="M878.68,571.74l7.5,7.5l-7.5,7.5l-7.5,-7.5z" fill="#0468ac"/>
<path d="M916.36,558.78l7.5,7.5l-7.5,7.5l-7.5,-7.5z" fill="#0468ac"/>
<path d="M954.04,560.57l7.5,7.5l-7.5,7.5l-7.5,-7.5z" fill="#0468ac"/>
<path d="M991.72,550.74l7.5,7.5l-7.5,7.5l-7.5,-7.5z" fill="#0468ac"/>
<line x1="428.83" y1="660.93" x2="436.15" y2="727.69" stroke="#6aa615" stroke-width="3.1" stroke-linecap="butt" stroke-dasharray="12 13"/>
<line x1="447.12" y1="733.75" x2="454.11" y2="787.33" stroke="#6aa615" stroke-width="3.1" stroke-linecap="butt" stroke-dasharray="12 13"/>
<line x1="456.33" y1="803.17" x2="463.01" y2="847.41" stroke="#6aa615" stroke-width="3.1" stroke-linecap="butt" stroke-dasharray="12 13"/>
<line x1="474.43" y1="848.84" x2="481.14" y2="803.62" stroke="#6aa615" stroke-width="3.1" stroke-linecap="butt" stroke-dasharray="12 13"/>
<line x1="483.75" y1="787.84" x2="489.95" y2="753.80" stroke="#6aa615" stroke-width="3.1" stroke-linecap="butt" stroke-dasharray="12 13"/>
<line x1="494.66" y1="738.63" x2="497.15" y2="733.11" stroke="#6aa615" stroke-width="3.1" stroke-linecap="butt" stroke-dasharray="12 13"/>
<line x1="502.66" y1="718.13" x2="507.28" y2="702.13" stroke="#6aa615" stroke-width="3.1" stroke-linecap="butt" stroke-dasharray="12 13"/>
<line x1="511.21" y1="686.63" x2="516.85" y2="660.79" stroke="#6aa615" stroke-width="3.1" stroke-linecap="butt" stroke-dasharray="12 13"/>
<line x1="521.12" y1="660.55" x2="525.06" y2="672.21" stroke="#6aa615" stroke-width="3.1" stroke-linecap="butt" stroke-dasharray="12 13"/>
<line x1="540.02" y1="684.14" x2="542.39" y2="679.01" stroke="#6aa615" stroke-width="3.1" stroke-linecap="butt" stroke-dasharray="12 13"/>
<line x1="558.27" y1="664.54" x2="560.38" y2="660.18" stroke="#6aa615" stroke-width="3.1" stroke-linecap="butt" stroke-dasharray="12 13"/>
<line x1="584.70" y1="641.88" x2="588.31" y2="631.90" stroke="#6aa615" stroke-width="3.1" stroke-linecap="butt" stroke-dasharray="12 13"/>
<line x1="593.38" y1="616.73" x2="597.74" y2="602.53" stroke="#6aa615" stroke-width="3.1" stroke-linecap="butt" stroke-dasharray="12 13"/>
<circle cx="427.96" cy="652.97" r="5.8" fill="#6aa615"/>
<circle cx="437.02" cy="735.65" r="5.8" fill="#6aa615"/>
<circle cx="446.08" cy="725.82" r="5.8" fill="#6aa615"/>
<circle cx="455.14" cy="795.26" r="5.8" fill="#6aa615"/>
<circle cx="464.20" cy="855.32" r="5.8" fill="#6aa615"/>
<circle cx="473.26" cy="856.75" r="5.8" fill="#6aa615"/>
<circle cx="482.32" cy="795.71" r="5.8" fill="#6aa615"/>
<circle cx="491.38" cy="745.92" r="5.8" fill="#6aa615"/>
<circle cx="500.44" cy="725.82" r="5.8" fill="#6aa615"/>
<circle cx="509.50" cy="694.44" r="5.8" fill="#6aa615"/>
<circle cx="518.56" cy="652.97" r="5.8" fill="#6aa615"/>
<circle cx="527.62" cy="679.79" r="5.8" fill="#6aa615"/>
<circle cx="536.68" cy="691.41" r="5.8" fill="#6aa615"/>
<circle cx="545.74" cy="671.74" r="5.8" fill="#6aa615"/>
<circle cx="554.80" cy="671.74" r="5.8" fill="#6aa615"/>
<circle cx="563.86" cy="652.97" r="5.8" fill="#6aa615"/>
<circle cx="572.92" cy="641.36" r="5.8" fill="#6aa615"/>
<circle cx="581.97" cy="649.40" r="5.8" fill="#6aa615"/>
<circle cx="591.03" cy="624.38" r="5.8" fill="#6aa615"/>
<circle cx="600.09" cy="594.88" r="5.8" fill="#6aa615"/>
<circle cx="609.15" cy="586.30" r="5.8" fill="#6aa615"/>
<rect x="714" y="834" width="326" height="71.5" fill="#fff"/>
<path d="M716.2,846.6h12.4M747.2,846.6h12.4" stroke="#0468ac" stroke-width="2.6" stroke-linecap="round"/>
<path d="M740.1,839.6l7,7l-7,7l-7,-7z" fill="#0468ac"/>
<path d="M716.2,876h12.4M747.2,876h12.4" stroke="#6aa615" stroke-width="2.6" stroke-linecap="round"/>
<circle cx="740.2" cy="876" r="5.9" fill="#6aa615"/>
<text x="768.2" y="853.1" font-family='"Liberation Sans", sans-serif' font-weight="bold" font-size="17.1" fill="#111" style="white-space:pre">Fe<tspan dy="5.1" font-size="10.6">10</tspan><tspan dy="-5.1">Ni</tspan><tspan dy="5.1" font-size="10.6">40</tspan><tspan dy="-5.1">NiO</tspan><tspan dy="5.1" font-size="10.6">50</tspan><tspan dy="-5.1"> for N=125 @ 300°C</tspan></text>
<text x="768.2" y="882.6" font-family='"Liberation Sans", sans-serif' font-weight="bold" font-size="17.1" fill="#111" style="white-space:pre">Fe<tspan dy="5.1" font-size="10.6">10</tspan><tspan dy="-5.1">Ni</tspan><tspan dy="5.1" font-size="10.6">40</tspan><tspan dy="-5.1">NiO</tspan><tspan dy="5.1" font-size="10.6">50</tspan><tspan dy="-5.1"> for  N=30 @ 300°C</tspan></text>
</svg></body></html>
